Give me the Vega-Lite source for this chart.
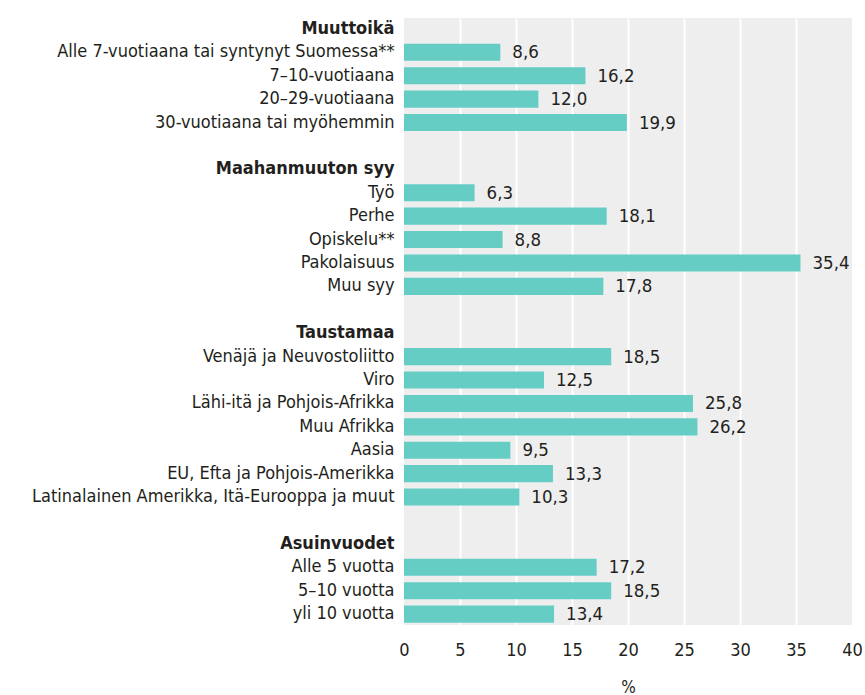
{
  "$schema": "https://vega.github.io/schema/vega-lite/v6.json",
  "width": 448,
  "height": 607,
  "autosize": {"type": "none"},
  "padding": {"left": 404, "top": 18, "right": 13, "bottom": 70},
  "background": "white",
  "config": {
    "locale": {"number": {"decimal": ",", "thousands": " ", "grouping": [3], "currency": ["", " €"]}},
    "view": {"stroke": null, "fill": "#eeeeee"},
    "font": "'DejaVu Sans Condensed', Roboto, sans-serif"
  },
  "data": {
    "values": [
      {"label": "Muuttoikä", "value": null},
      {"label": "Alle 7-vuotiaana tai syntynyt Suomessa**", "value": 8.6},
      {"label": "7–10-vuotiaana", "value": 16.2},
      {"label": "20–29-vuotiaana", "value": 12.0},
      {"label": "30-vuotiaana tai myöhemmin", "value": 19.9},
      {"label": "Maahanmuuton syy", "value": null},
      {"label": "Työ", "value": 6.3},
      {"label": "Perhe", "value": 18.1},
      {"label": "Opiskelu**", "value": 8.8},
      {"label": "Pakolaisuus", "value": 35.4},
      {"label": "Muu syy", "value": 17.8},
      {"label": "Taustamaa", "value": null},
      {"label": "Venäjä ja Neuvostoliitto", "value": 18.5},
      {"label": "Viro", "value": 12.5},
      {"label": "Lähi-itä ja Pohjois-Afrikka", "value": 25.8},
      {"label": "Muu Afrikka", "value": 26.2},
      {"label": "Aasia", "value": 9.5},
      {"label": "EU, Efta ja Pohjois-Amerikka", "value": 13.3},
      {"label": "Latinalainen Amerikka, Itä-Eurooppa ja muut", "value": 10.3},
      {"label": "Asuinvuodet", "value": null},
      {"label": "Alle 5 vuotta", "value": 17.2},
      {"label": "5–10 vuotta", "value": 18.5},
      {"label": "yli 10 vuotta", "value": 13.4}
    ]
  },
  "encoding": {
    "y": {
      "field": "label",
      "type": "nominal",
      "sort": null,
      "scale": {
        "domain": ["Muuttoikä", "Alle 7-vuotiaana tai syntynyt Suomessa**", "7–10-vuotiaana", "20–29-vuotiaana", "30-vuotiaana tai myöhemmin", " ",
          "Maahanmuuton syy", "Työ", "Perhe", "Opiskelu**", "Pakolaisuus", "Muu syy", "  ",
          "Taustamaa", "Venäjä ja Neuvostoliitto", "Viro", "Lähi-itä ja Pohjois-Afrikka", "Muu Afrikka", "Aasia", "EU, Efta ja Pohjois-Amerikka", "Latinalainen Amerikka, Itä-Eurooppa ja muut", "   ",
          "Asuinvuodet", "Alle 5 vuotta", "5–10 vuotta", "yli 10 vuotta"],
        "paddingInner": 0.27,
        "paddingOuter": 0.1
      },
      "axis": {
        "title": null,
        "domain": false,
        "ticks": false,
        "labelPadding": 10,
        "labelFontSize": 18,
        "labelColor": "#231f20",
        "labelLimit": 500,
        "labelFontWeight": {
          "condition": {"test": "indexof(['Muuttoikä','Maahanmuuton syy','Taustamaa','Asuinvuodet'], datum.value) >= 0", "value": "bold"},
          "value": "normal"
        }
      }
    }
  },
  "layer": [
    {
      "mark": {"type": "bar", "color": "#66cdc5"},
      "transform": [{"filter": "datum.value != null"}],
      "encoding": {
        "x": {
          "field": "value",
          "type": "quantitative",
          "scale": {"domain": [0, 40], "nice": false},
          "axis": {
            "title": "%",
            "titleFontSize": 17,
            "titleFontWeight": "normal",
            "titleColor": "#231f20",
            "titlePadding": 20,
            "values": [0, 5, 10, 15, 20, 25, 30, 35, 40],
            "domain": false,
            "ticks": false,
            "labelPadding": 16,
            "labelFontSize": 18,
            "labelColor": "#231f20",
            "labelFlush": false,
            "grid": true,
            "gridColor": "white",
            "gridWidth": 2,
            "gridOpacity": {"condition": {"test": "datum.value == 0 || datum.value == 40", "value": 0}, "value": 1}
          }
        }
      }
    },
    {
      "mark": {"type": "text", "align": "left", "dx": 12, "fontSize": 18.5, "color": "#231f20"},
      "transform": [{"filter": "datum.value != null"}],
      "encoding": {
        "x": {"field": "value", "type": "quantitative"},
        "text": {"field": "value", "type": "quantitative", "format": ".1f"}
      }
    }
  ]
}
